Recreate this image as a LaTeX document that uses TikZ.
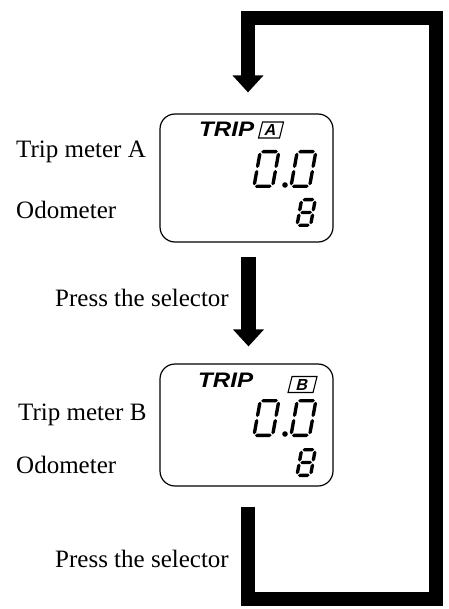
\documentclass[tikz,border=0pt]{standalone}
\usepackage{fontspec}
\setmainfont{Liberation Serif}
\newfontfamily\lcdfont{Liberation Sans}
\usetikzlibrary{positioning, arrows.meta}

% seven segment pieces (pt, y up)
\newcommand{\hseg}[3]{\fill (#1,#3) -- (#1+1.7,#3+1.7) -- (#2-1.7,#3+1.7) -- (#2,#3) -- (#2-1.7,#3-1.7) -- (#1+1.7,#3-1.7) -- cycle;}
\newcommand{\vseg}[3]{\fill (#3,#1) -- (#3+1.7,#1+1.7) -- (#3+1.7,#2-1.7) -- (#3,#2) -- (#3-1.7,#2-1.7) -- (#3-1.7,#1+1.7) -- cycle;}
\newcommand{\lcdring}[2]{%
    \hseg{2.7}{#1-2.7}{#2-1.7}
    \hseg{2.7}{#1-2.7}{1.7}
    \vseg{#2/2+1}{#2-2.7}{1.7}
    \vseg{2.7}{#2/2-1}{1.7}
    \vseg{#2/2+1}{#2-2.7}{#1-1.7}
    \vseg{2.7}{#2/2-1}{#1-1.7}}
\newcommand{\lcdzero}[3]{%
    \begin{scope}[shift={#1}, x=1pt, y=1pt, xslant=0.18]
        \lcdring{#2}{#3}
    \end{scope}}
\newcommand{\lcdeight}[3]{%
    \begin{scope}[shift={#1}, x=1pt, y=1pt, xslant=0.18]
        \lcdring{#2}{#3}
        \hseg{2.7}{#2-2.7}{#3/2}
    \end{scope}}

\begin{document}
\begin{tikzpicture}[x=1pt, y=-1pt]
    \tikzstyle{display} = [draw, rectangle, rounded corners=15pt, line width=1.2pt, inner sep=0pt, minimum width=173pt];
    \tikzstyle{sidetext} = [anchor=base west, inner sep=0pt, font=\fontsize{25}{30}\selectfont];
    \tikzstyle{trip} = [anchor=base west, inner sep=0pt, xscale=1.15, font=\lcdfont\bfseries\itshape\fontsize{21}{24}\selectfont];
    \tikzstyle{tripbox} = [draw, line width=1.1pt, xslant=0.25, inner sep=0pt, minimum height=16pt, font=\lcdfont\bfseries\fontsize{16}{18}\selectfont];
    \tikzstyle{flow} = [line width=15pt, -{Triangle[width=30pt, length=17pt]}];

    \useasboundingbox (0,0) rectangle (448,609);

    \node[display, minimum height=128pt] (dispA) at (246.5,178) {};
    \node[display, minimum height=122pt] (dispB) at (246.5,425) {};

    \node[trip] (tripA) at (199,137) {TRIP};
    \node[tripbox, minimum width=21pt] (boxA) at (271,130) {A};
    \node[trip] (tripB) at (198,387) {TRIP};
    \node[tripbox, minimum width=25pt] (boxB) at (302.5,384.5) {B};

    \lcdzero{(252,188)}{22}{38}
    \fill (285,185) circle (2.8pt);
    \lcdzero{(289,188)}{22}{38}
    \lcdeight{(295,227)}{17}{29}

    \lcdzero{(252,437)}{22}{38}
    \fill (285,434) circle (2.8pt);
    \lcdzero{(289,437)}{22}{38}
    \lcdeight{(295,477)}{17}{29}

    \node[sidetext] (tripmA) at (16,158) {Trip meter A};
    \node[sidetext] (odoA) at (16,219) {Odometer};
    \node[sidetext] (pressA) at (55,306) {Press the selector};
    \node[sidetext] (tripmB) at (18,420) {Trip meter B};
    \node[sidetext] (odoB) at (16,473) {Odometer};
    \node[sidetext] (pressB) at (55,567) {Press the selector};

    \draw[flow, shorten <=14pt, shorten >=17pt] ([xshift=2pt]dispA.south) -- ([xshift=2pt]dispB.north);
    \draw[flow, line width=14pt, line join=miter] ([xshift=1.5pt, yshift=-20pt]dispB.south) -- ++(0,92) -- ++(188,0) -- ++(0,-581) -- ++(-188,0) -- ([xshift=1.5pt, yshift=21pt]dispA.north);
\end{tikzpicture}
\end{document}
